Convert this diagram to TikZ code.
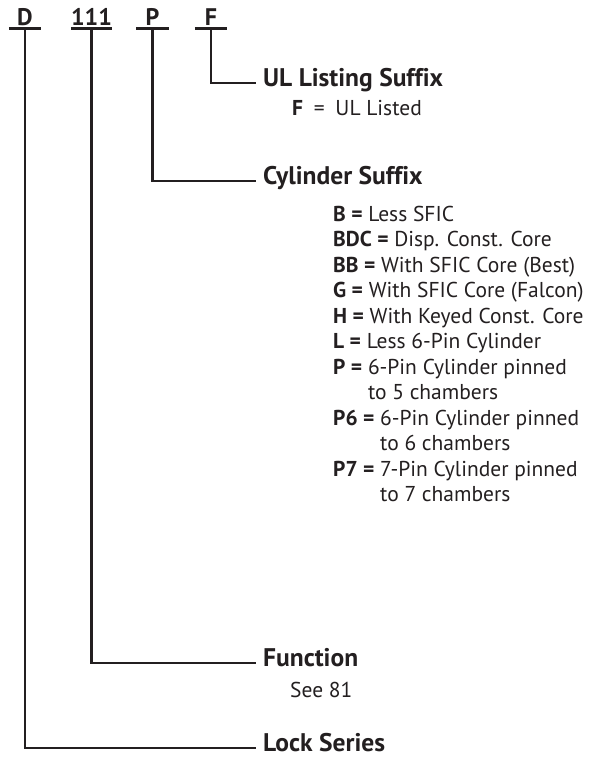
\documentclass[tikz,border=0pt]{standalone}
\usepackage{fontspec}
\setmainfont{PT Sans}[Ligatures=NoCommon]
\usetikzlibrary{positioning}
\definecolor{ink}{HTML}{231F20}

\begin{document}
\begin{tikzpicture}[
    x=1pt, y=-1pt,
    % --- STYLES ---
    code/.style={
        font=\fontsize{24}{28}\selectfont\bfseries, text=ink,
        anchor=base, minimum width=32pt,
        inner xsep=0pt, inner ysep=3pt, text depth=0pt
    },
    heading/.style={
        anchor=west, font=\fontsize{25.5}{28}\selectfont\bfseries, text=ink,
        inner xsep=7pt, inner ysep=0pt,
        text height=0.7em, text depth=0pt
    },
    items/.style={
        anchor=north west, align=left, text=ink,
        font=\fontsize{21.5}{25.45}\selectfont, inner sep=0pt
    },
    lead/.style={draw=ink, line width=2.6pt}
]
\useasboundingbox (0,0) rectangle (590,763);

% ===== 1. PART NUMBER =====
\node[code] (d)   at (25,25)    {D};
\node[code] (fn)  at (91.5,25)  {111};
\node[code] (cyl) at (152.5,25) {P};
\node[code] (ul)  at (211,25)   {F};

\draw[lead] (d.south west) -- (d.south east);
\draw[lead] (fn.south west) -- (fn.south east);
\draw[lead] (cyl.south west) -- (cyl.south east);
\draw[lead] (ul.south west) -- (ul.south east);

% ===== 2. HEADINGS =====
\node[heading] (ulhead)   at (256,83)  {UL Listing Suffix};
\node[heading] (cylhead)  at (256,181) {Cylinder Suffix};
\node[heading] (fnhead)   at (256,663) {Function};
\node[heading] (lockhead) at (256,748) {Lock Series};

% ===== 3. OPTIONS =====
\node[items] (ullist) at (292,100) {\textbf{F}\enspace=\enspace UL Listed};

\node[items] (cyllist) at (333,206) {%
    \textbf{B =} Less SFIC\\
    \textbf{BDC =} Disp. Const. Core\\
    \textbf{BB =} With SFIC Core (Best)\\
    \textbf{G =} With SFIC Core (Falcon)\\
    \textbf{H =} With Keyed Const. Core\\
    \textbf{L =} Less 6-Pin Cylinder\\
    \textbf{P =} 6-Pin Cylinder pinned\\
    \phantom{\textbf{P =} }to 5 chambers\\
    \textbf{P6 =} 6-Pin Cylinder pinned\\
    \phantom{\textbf{P6 =} }to 6 chambers\\
    \textbf{P7 =} 7-Pin Cylinder pinned\\
    \phantom{\textbf{P7 =} }to 7 chambers};

\node[items] (fnlist) at (290,682) {See 81};

% ===== 4. LEADERS =====
\draw[lead] (ul.south) |- (ulhead.west);
\draw[lead] (cyl.south) |- (cylhead.west);
\draw[lead] (fn.south) |- (fnhead.west);
\draw[lead] (d.south) |- (lockhead.west);

\end{tikzpicture}
\end{document}
